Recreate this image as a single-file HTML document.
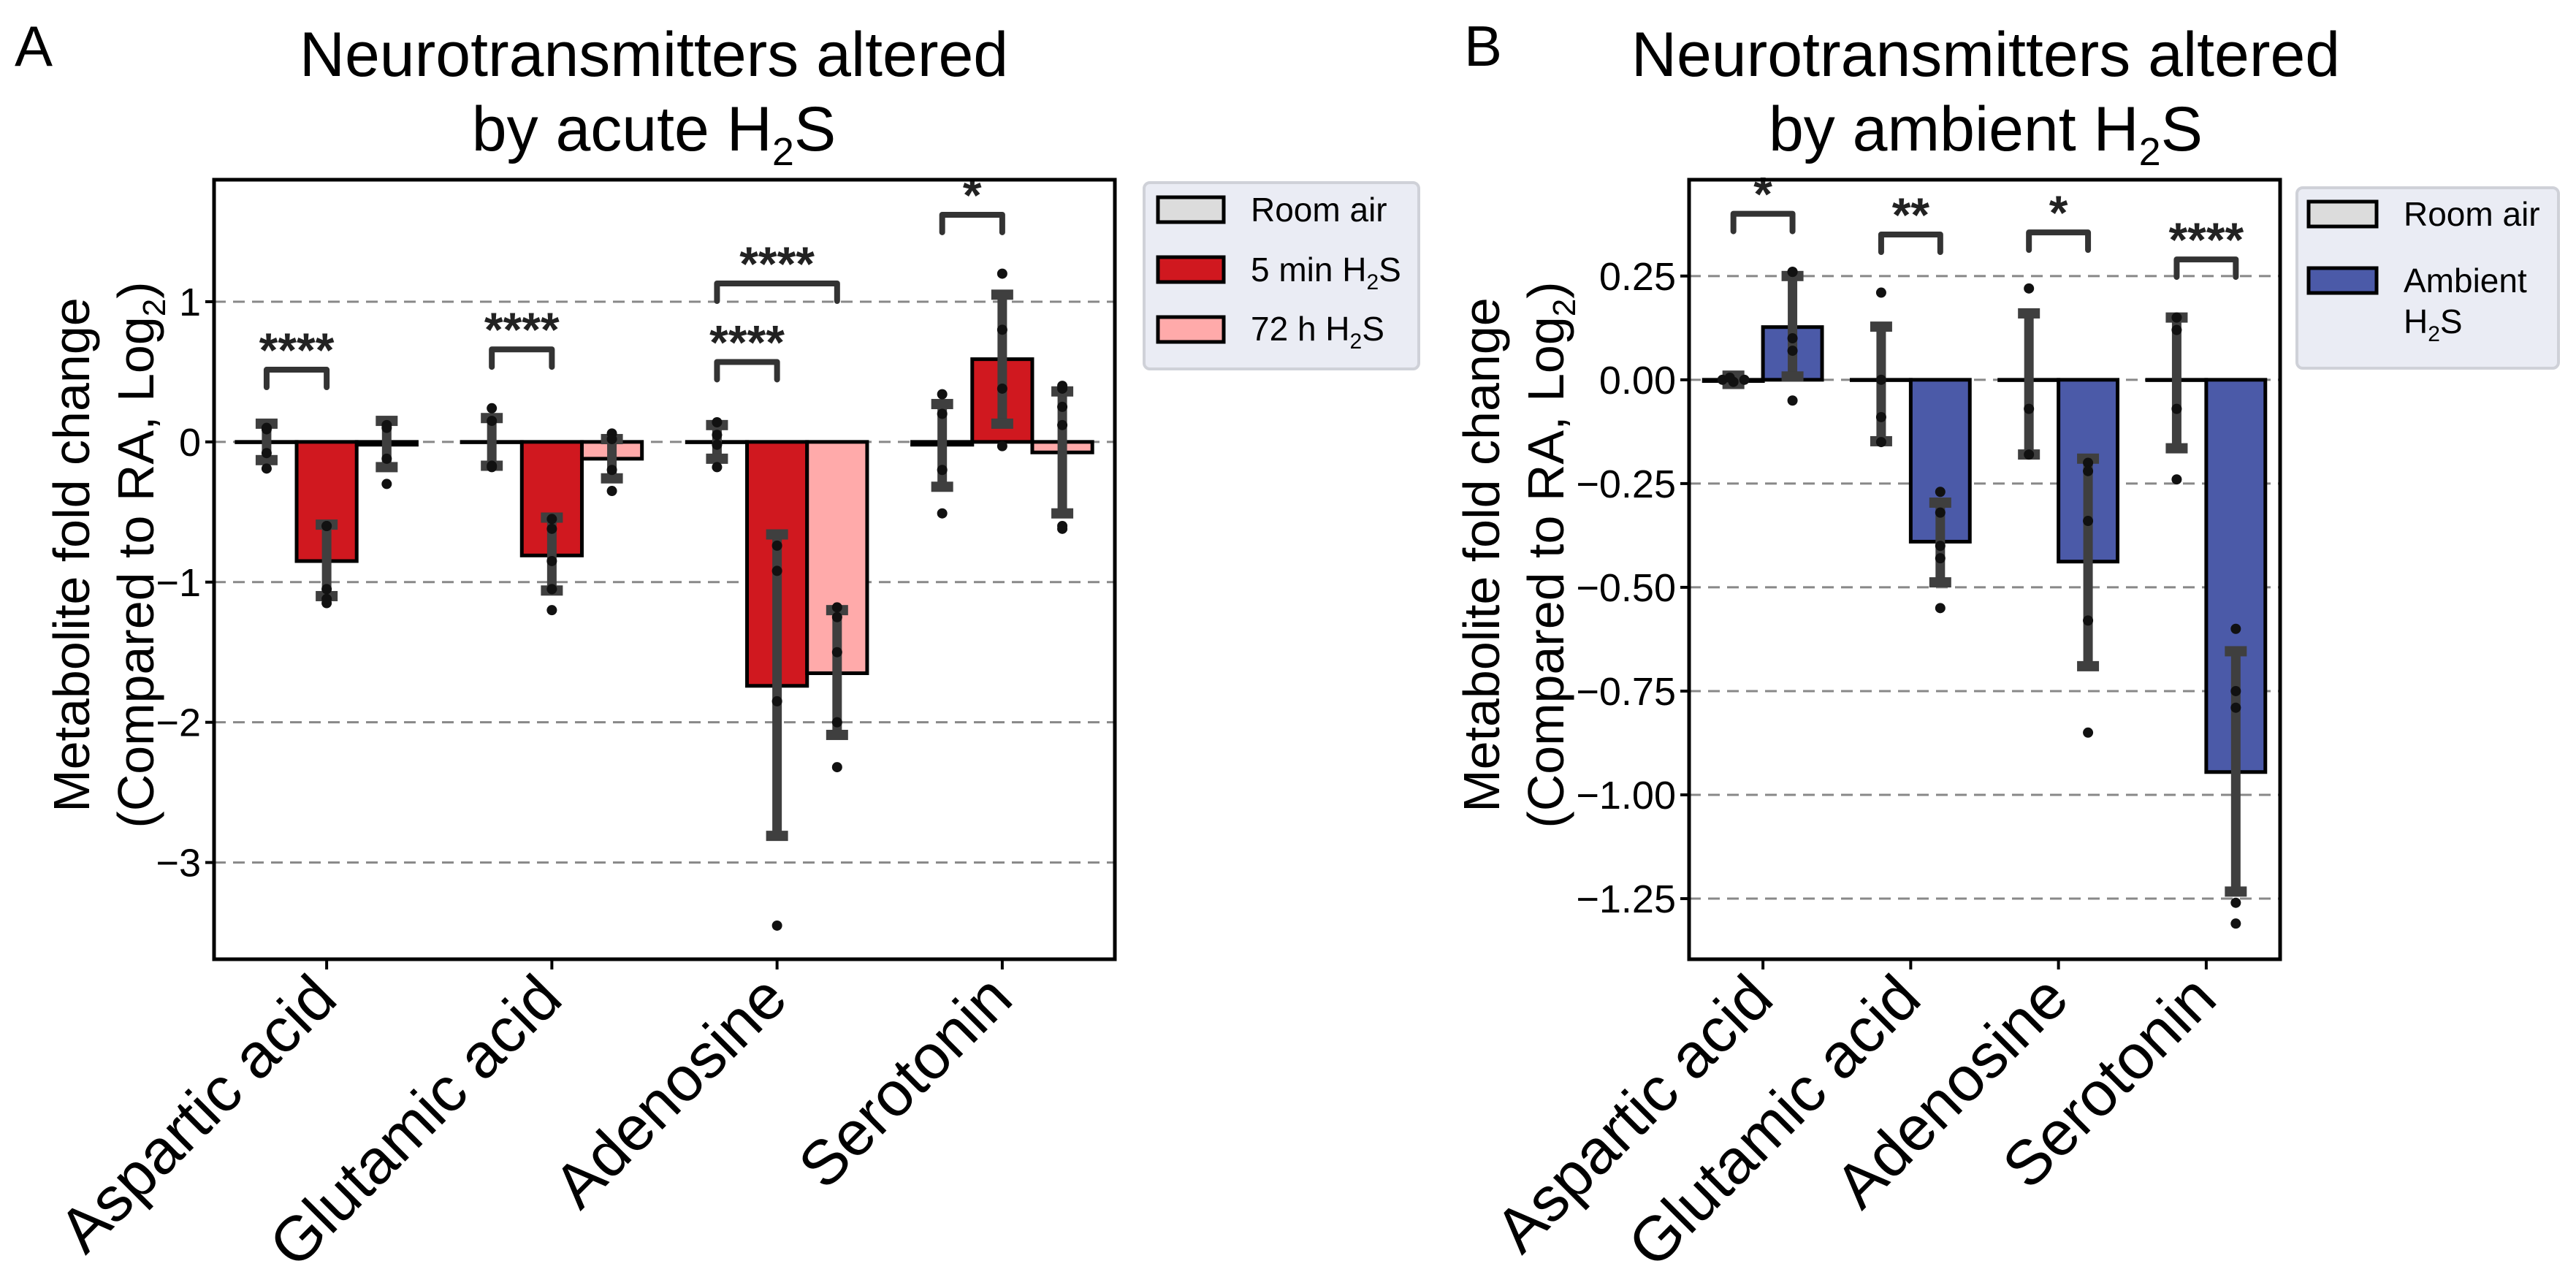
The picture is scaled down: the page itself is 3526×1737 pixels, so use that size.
<!DOCTYPE html>
<html><head><meta charset="utf-8"><style>
body{margin:0;background:#fff}
svg{display:block;font-family:"Liberation Sans",sans-serif}
</style></head><body>
<svg id="fig" width="3526" height="1737" viewBox="0 0 3526 1737" xmlns="http://www.w3.org/2000/svg">
<text x="20" y="90" font-size="78">A</text>
<text x="2004" y="90" font-size="78">B</text>
<g font-size="86" text-anchor="middle">
<text x="895" y="104">Neurotransmitters altered</text>
<text x="895" y="206">by acute H<tspan font-size="54" dy="20">2</tspan><tspan dy="-20">S</tspan></text>
</g>
<g font-size="86" text-anchor="middle">
<text x="2718" y="104">Neurotransmitters altered</text>
<text x="2718" y="206">by ambient H<tspan font-size="54" dy="20">2</tspan><tspan dy="-20">S</tspan></text>
</g>
<g id="pa"></g>
<g id="pb"></g>
<g font-size="46">
<rect x="1566" y="250" width="376" height="255" rx="8" fill="#eaecf4" stroke="#cfd1d8" stroke-width="4"/>
<rect x="1585" y="270" width="90" height="34" fill="#dcdcdc" stroke="#000" stroke-width="5"/>
<text x="1712" y="303">Room air</text>
<rect x="1585" y="352" width="90" height="34" fill="#d0181f" stroke="#000" stroke-width="5"/>
<text x="1712" y="385">5 min H<tspan font-size="30" dy="11">2</tspan><tspan dy="-11">S</tspan></text>
<rect x="1585" y="434" width="90" height="34" fill="#ffaaaa" stroke="#000" stroke-width="5"/>
<text x="1712" y="466">72 h H<tspan font-size="30" dy="11">2</tspan><tspan dy="-11">S</tspan></text>
</g>
<g font-size="46">
<rect x="3144" y="257" width="358" height="247" rx="8" fill="#eaecf4" stroke="#cfd1d8" stroke-width="4"/>
<rect x="3160" y="276" width="93" height="34" fill="#dcdcdc" stroke="#000" stroke-width="5"/>
<text x="3290" y="309">Room air</text>
<rect x="3160" y="367" width="93" height="34" fill="#4b5aa8" stroke="#000" stroke-width="5"/>
<text x="3290" y="400">Ambient</text>
<text x="3290" y="456">H<tspan font-size="30" dy="11">2</tspan><tspan dy="-11">S</tspan></text>
</g>
</svg>
<script>
const NS="http://www.w3.org/2000/svg";
const categories=["Aspartic acid","Glutamic acid","Adenosine","Serotonin"];
// Panel A
const aTicks=[1,0,-1,-2,-3];
const aMeans=[[0,-0.85,-0.02],[0,-0.81,-0.12],[0,-1.74,-1.65],[-0.02,0.59,-0.075]];
const aErrHi=[[0.13,-0.59,0.15],[0.17,-0.54,0.02],[0.12,-0.66,-1.2],[0.27,1.05,0.36]];
const aErrLo=[[-0.13,-1.1,-0.18],[-0.17,-1.06,-0.26],[-0.12,-2.81,-2.09],[-0.32,0.13,-0.51]];
const aPoints=[
 [[0.09,0.1,-0.08,-0.19],[-0.6,-0.6,-1.05,-1.15,-1.12],[0.12,0.1,-0.12,-0.3]],
 [[0.24,0.15,-0.17,-0.18],[-0.55,-0.62,-0.85,-1.2,-1.05],[0.06,0.02,-0.2,-0.35]],
 [[0.14,0.05,-0.02,-0.18],[-0.74,-0.92,-1.85,-3.45],[-1.18,-1.25,-1.5,-2.0,-2.32]],
 [[0.34,0.2,-0.2,-0.51],[1.2,0.8,0.38,-0.03],[0.4,0.38,0.25,0.12,-0.6,-0.62]]];
const aBrackets=[[0,0,1,0.515,"****"],[1,0,1,0.66,"****"],[2,0,1,0.57,"****"],[2,0,2,1.13,"****"],[3,0,1,1.62,"*"]];
// Panel B
const bTicks=[0.25,0,-0.25,-0.5,-0.75,-1,-1.25];
const bTickLabels=["0.25","0.00","\u22120.25","\u22120.50","\u22120.75","\u22121.00","\u22121.25"];
const bMeans=[[-0.003,0.127],[0,-0.39],[0,-0.438],[0,-0.945]];
const bErrHi=[[0.01,0.25],[0.128,-0.296],[0.16,-0.19],[0.15,-0.654]];
const bErrLo=[[-0.01,0.008],[-0.148,-0.488],[-0.18,-0.69],[-0.165,-1.233]];
const bPoints=[
 [[0,0,-0.005,0.005],[0.26,0.26,0.1,0.07,-0.05]],
 [[0.21,0,-0.09,-0.15],[-0.27,-0.32,-0.4,-0.43,-0.55]],
 [[0.22,-0.07,-0.18],[-0.2,-0.22,-0.34,-0.58,-0.85]],
 [[0.15,0.12,-0.07,-0.24],[-0.6,-0.75,-0.79,-1.26,-1.31]]];
const bBrackets=[[0,0,1,0.40,"*"],[1,0,1,0.35,"**"],[2,0,1,0.355,"*"],[3,0,1,0.29,"****"]];

function el(tag,attrs,parent){const e=document.createElementNS(NS,tag);for(const k in attrs)e.setAttribute(k,attrs[k]);parent.appendChild(e);return e;}

function panel(g,cfg){
 const {L,R,T,B,ymin,ymax,ticks,tickLabels,means,hi,lo,pts,colors,brackets,ylx1,ylx2,jit}=cfg;
 const xs=v=>L+(v+0.5)/4*(R-L);
 const ys=v=>T+(ymax-v)/(ymax-ymin)*(B-T);
 const n=colors.length, w=0.8/n;
 ticks.forEach((t,i)=>{
  const gl=el('line',{x1:L,x2:R,y1:ys(t),y2:ys(t),stroke:'#888',"stroke-width":3,"stroke-dasharray":"16 10"},g);
  
  
  const tk=el('line',{x1:L-12,x2:L,y1:ys(t),y2:ys(t),stroke:'#000',"stroke-width":4},g);
  
  
  const tl=el('text',{x:L-18,y:ys(t)+19,"font-size":54,"text-anchor":"end"},g);
  tl.textContent=tickLabels?tickLabels[i]:(t<0?"\u2212"+(-t):String(t));
  
  
 });
 categories.forEach((c,ci)=>{
  for(let s=0;s<n;s++){
   const cx=xs(ci-0.4+w*(s+0.5));
   const m=means[ci][s];
   const bar=el('rect',{x:cx-w/2*(R-L)/4,width:w*(R-L)/4,y:Math.min(ys(m),ys(0)),height:Math.max(Math.abs(ys(m)-ys(0)),0.5),fill:colors[s],stroke:'#000',"stroke-width":5},g);
   
   
   const e1=el('line',{x1:cx,x2:cx,y1:ys(hi[ci][s]),y2:ys(lo[ci][s]),stroke:'#3f3f3f',"stroke-width":13},g);
   
   
   [hi[ci][s],lo[ci][s]].forEach(v=>{
    const cp=el('rect',{x:cx-15,width:30,y:ys(v)-7,height:14,fill:'#3f3f3f'},g);
    
    
   });
   pts[ci][s].forEach((p,pi)=>{
    const dx=(jit&&ci===0&&s===0)?[-15,15,0,-5][pi]:0;
    const d=el('circle',{cx:cx+dx,cy:ys(p),r:7,fill:'#111'},g);
    
    
   });
  }
  const tx=xs(ci);
  const xt=el('line',{x1:tx,x2:tx,y1:B,y2:B+14,stroke:'#000',"stroke-width":4},g);
  
  
  const ax=tx+18, ay=B+58;
  const lab=el('text',{x:ax,y:ay,"font-size":86,"text-anchor":"end",transform:`rotate(-45 ${ax} ${ay})`},g);
  lab.textContent=c;
  
  
 });
 brackets.forEach(b=>{
  const [ci,s1,s2,yv,lbl]=b;
  const x1=xs(ci-0.4+w*(s1+0.5)), x2=xs(ci-0.4+w*(s2+0.5)), y=ys(yv);
  const br=el('path',{d:`M${x1} ${y+24}V${y}H${x2}V${y+24}`,fill:'none',stroke:'#333',"stroke-width":8,"stroke-linecap":"round","stroke-linejoin":"round"},g);
  
  
  const st=el('text',{x:(x1+x2)/2,y:y-4,"font-size":66,"font-weight":"bold","text-anchor":"middle",fill:'#222'},g);
  st.textContent=lbl;
  
  
 });
 const fr=el('rect',{x:L,y:T,width:R-L,height:B-T,fill:'none',stroke:'#000',"stroke-width":5},g);
 
 
 const cy=(T+B)/2-20;
 const y1=el('text',{x:ylx1,y:cy,"font-size":70,"text-anchor":"middle",transform:`rotate(-90 ${ylx1} ${cy})`},g);
 y1.textContent="Metabolite fold change";
 
 
 const y2=el('text',{x:ylx2,y:cy,"font-size":70,"text-anchor":"middle",transform:`rotate(-90 ${ylx2} ${cy})`},g);
 y2.innerHTML='(Compared to RA, Log<tspan font-size="44" dy="16">2</tspan><tspan dy="-16">)</tspan>';
 
 
}
panel(document.getElementById('pa'),{L:293,R:1526,T:246,B:1313,ymin:-3.69,ymax:1.87,ticks:aTicks,means:aMeans,hi:aErrHi,lo:aErrLo,pts:aPoints,colors:['#dcdcdc','#d0181f','#ffaaaa'],brackets:aBrackets,ylx1:122,ylx2:210});
panel(document.getElementById('pb'),{L:2312,R:3121,T:246,B:1313,ymin:-1.396,ymax:0.482,ticks:bTicks,tickLabels:bTickLabels,means:bMeans,hi:bErrHi,lo:bErrLo,pts:bPoints,colors:['#dcdcdc','#4b5aa8'],brackets:bBrackets,ylx1:2052,ylx2:2140,jit:true});
</script>
</body></html>
